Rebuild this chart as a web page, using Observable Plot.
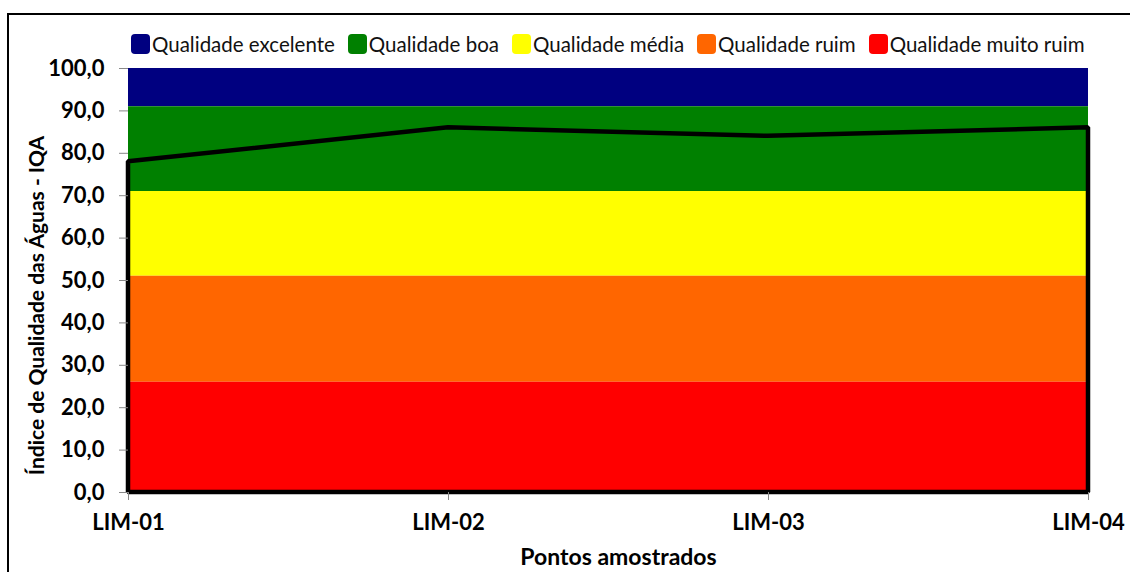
<!DOCTYPE html>
<html>
<head>
<meta charset="utf-8">
<script src="https://cdn.jsdelivr.net/npm/d3@7"></script>
<script src="https://cdn.jsdelivr.net/npm/@observablehq/plot@0.6"></script>
<style>
  html, body { margin: 0; padding: 0; background: #fff; }
  #wrap { position: relative; width: 1130px; height: 572px; overflow: hidden; font-family: Lato, "Open Sans", sans-serif; }
  #frame { position: absolute; left: 7px; top: 13px; width: 1140px; height: 600px; border: 2px solid #000; box-sizing: border-box; }
  #legend { position: absolute; left: 131px; top: 32px; display: flex; gap: 13px; font-size: 20.5px; color: #111; }
  .item { display: flex; align-items: center; gap: 2px; }
  .sw { width: 19px; height: 20px; border-radius: 4px; display: inline-block; }
  #chart { position: absolute; left: 0; top: 0; }
</style>
</head>
<body>
<div id="wrap">
  <div id="frame"></div>
  <div id="chart"></div>
  <div id="legend"></div>
</div>
<script>
// Data
const points = ["LIM-01", "LIM-02", "LIM-03", "LIM-04"];
const iqa = [78, 86, 84, 86];
const bandNames = ["Qualidade excelente", "Qualidade boa", "Qualidade média", "Qualidade ruim", "Qualidade muito ruim"];
const bandLower = [91, 71, 51, 26, 0];
const bandUpper = [100, 91, 71, 51, 26];
const bandColors = ["#000080", "#008000", "#FFFF00", "#FF6600", "#FF0000"];
const yTicks = [0, 10, 20, 30, 40, 50, 60, 70, 80, 90, 100];

const bandRows = [];
bandNames.forEach((name, i) => {
  points.forEach(p => bandRows.push({ band: name, point: p, lo: bandLower[i], hi: bandUpper[i] }));
});
const series = points.map((p, i) => ({ point: p, value: iqa[i] }));

const fmt = d => d3.format(".1f")(d).replace(".", ",");

const chart = Plot.plot({
  width: 1130,
  height: 572,
  marginLeft: 128,
  marginRight: 42,
  marginTop: 68,
  marginBottom: 80,
  style: { fontFamily: "Lato, 'Open Sans', sans-serif", background: "transparent" },
  x: { type: "point", domain: points, padding: 0, label: null },
  y: { domain: [0, 100], label: null },
  color: { domain: bandNames, range: bandColors },
  marks: [
    Plot.areaY(bandRows, { x: "point", y1: "lo", y2: "hi", fill: "band", z: "band", curve: "linear" }),
    Plot.areaY(series, { x: "point", y: "value", fill: "none", stroke: "#000", strokeWidth: 4.5, strokeLinejoin: "miter" }),
    Plot.axisY({ ticks: yTicks, tickFormat: fmt, tickSize: 9, tickPadding: 15, stroke: "#888", fontSize: 22, fontWeight: "bold", fill: "#000", label: null }),
    Plot.axisX({ tickSize: 8, tickPadding: 14, stroke: "#888", fontSize: 22, fontWeight: "bold", fill: "#000", label: null }),
    Plot.text(["Pontos amostrados"], { frameAnchor: "bottom", dx: 10, dy: 65, fontSize: 23, fontWeight: "bold", fill: "#000", lineAnchor: "middle" }),
    Plot.text(["Índice de Qualidade das Águas - IQA"], { frameAnchor: "left", dx: -91, dy: 25, rotate: -90, textAnchor: "middle", fontSize: 21, fontWeight: "bold", fill: "#000", lineAnchor: "middle" })
  ]
});
document.getElementById("chart").appendChild(chart);

const legend = document.getElementById("legend");
bandNames.forEach((name, i) => {
  const item = document.createElement("div");
  item.className = "item";
  const sw = document.createElement("span");
  sw.className = "sw";
  sw.style.background = bandColors[i];
  const t = document.createElement("span");
  t.textContent = name;
  item.appendChild(sw);
  item.appendChild(t);
  legend.appendChild(item);
});
</script>
</body>
</html>
